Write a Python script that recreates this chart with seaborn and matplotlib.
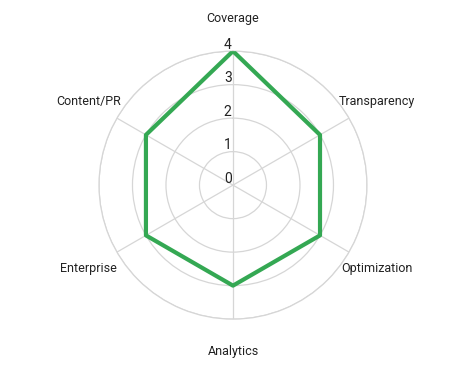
import numpy as np
import pandas as pd
import matplotlib
matplotlib.use("Agg")
import matplotlib.pyplot as plt
import seaborn as sns

# --- data ---
categories = ["Coverage", "Transparency", "Optimization", "Analytics", "Enterprise", "Content/PR"]
scores = [4, 3, 3, 3, 3, 3]
r_ticks = [0, 1, 2, 3, 4]

sns.set_theme(style="white")
plt.rcParams["font.family"] = ["Roboto", "DejaVu Sans"]

fig = plt.figure(figsize=(4.66, 3.71), dpi=100)
ax = fig.add_axes([0.5 - 0.2876, 0.501 - 0.3612, 0.5751, 0.7224], polar=True)
ax.set_theta_zero_location("N")
ax.set_theta_direction(-1)

angles = np.linspace(0, 2 * np.pi, len(categories), endpoint=False)
# close the loop (last point at 2*pi so nothing gets aggregated)
df = pd.DataFrame({
    "angle": np.append(angles, 2 * np.pi),
    "score": scores + scores[:1],
})
sns.lineplot(data=df, x="angle", y="score", sort=False, estimator=None,
             color="#34A853", linewidth=3, ax=ax, zorder=5)

ax.set_ylim(0, max(r_ticks))
ax.set_yticks(r_ticks)
ax.set_yticklabels([])
ax.set_xticks(angles)
ax.set_xticklabels([])
ax.set_xlabel("")
ax.set_ylabel("")
ax.grid(True, color="#d6d6d6", linewidth=0.9)
ax.spines["polar"].set_color("#d6d6d6")
ax.spines["polar"].set_linewidth(0.9)

# radial tick labels along the top spoke
for r in r_ticks:
    ax.annotate(str(r), xy=(0, r), xytext=(-1, -0.5), textcoords="offset points",
                ha="right", va="bottom", fontsize=10, color="#222222")

# category labels around the outside
for a, c in zip(angles, categories):
    ax.text(a, 4.97, c, ha="center", va="center", fontsize=9, color="#222222")

fig.savefig("out.png", dpi=100)
